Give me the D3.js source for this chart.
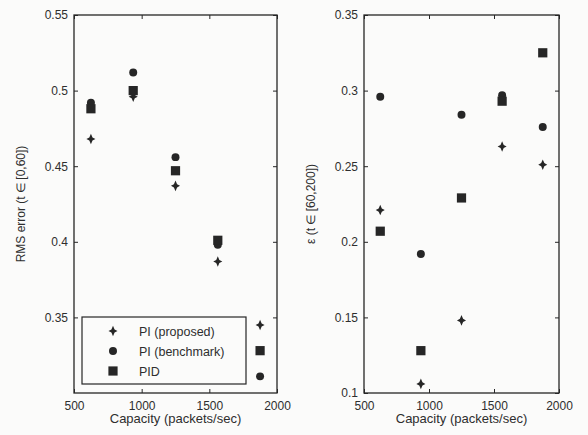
<!DOCTYPE html>
<html>
<head>
<meta charset="utf-8">
<script src="https://cdn.jsdelivr.net/npm/d3@7"></script>
<style>
  body { margin: 0; background: #fbfbfa; }
  text { font-family: "Liberation Sans", Arial, sans-serif; fill: #2e2e2e; }
</style>
</head>
<body>
<div id="chart"></div>
<script>
var svgWidth = 588;
var svgHeight = 435;

// capacities (packets/sec)
var capacity = [625, 937.5, 1250, 1562.5, 1875];

// left panel: RMS error, t in [0,60]
var rmsProposed = [0.468, 0.496, 0.437, 0.387, 0.345];
var rmsBenchmark = [0.492, 0.512, 0.456, 0.398, 0.311];
var rmsPID = [0.488, 0.500, 0.447, 0.401, 0.328];

// right panel: epsilon, t in [60,200]
var epsProposed = [0.221, 0.106, 0.148, 0.263, 0.251];
var epsBenchmark = [0.296, 0.192, 0.284, 0.297, 0.276];
var epsPID = [0.207, 0.128, 0.229, 0.293, 0.325];

var xTicks = [500, 1000, 1500, 2000];
var rmsTicks = [0.35, 0.4, 0.45, 0.5, 0.55];
var epsTicks = [0.1, 0.15, 0.2, 0.25, 0.3, 0.35];
var legendLabels = ["PI (proposed)", "PI (benchmark)", "PID"];

var ink = "#262626";

var svg = d3.select("#chart")
            .append("svg")
            .attr("width", svgWidth)
            .attr("height", svgHeight);

// the "proposed" marker is a squat diamond with pinched sides, like the scan
var starDiamond = {
  draw: function(ctx, size) {
    var h = Math.sqrt(size) * 0.8, w = h * 0.85, p = w * 0.35;
    ctx.moveTo(0, -h);
    ctx.lineTo(p, -p);
    ctx.lineTo(w, 0);
    ctx.lineTo(p, p);
    ctx.lineTo(0, h);
    ctx.lineTo(-p, p);
    ctx.lineTo(-w, 0);
    ctx.lineTo(-p, -p);
    ctx.closePath();
  }
};

var markers = [
  d3.symbol().type(starDiamond).size(44),
  d3.symbol().type(d3.symbolCircle).size(50),
  d3.symbol().type(d3.symbolSquare).size(85)
];

function drawPanel(left, right, domainY, yTicks, series, yLabel, yFmt) {
  var top = 15, bottom = 393;
  var x = d3.scaleLinear().domain([500, 2000]).range([left, right]);
  var y = d3.scaleLinear().domain(domainY).range([bottom, top]);
  var g = svg.append("g");

  // frame
  g.append("rect")
   .attr("x", left).attr("y", top)
   .attr("width", right - left).attr("height", bottom - top)
   .attr("fill", "none").attr("stroke", ink).attr("stroke-width", 1.3);

  g.append("g")
    .attr("transform", `translate(0, ${bottom})`)
    .call(d3.axisBottom(x).tickValues(xTicks).tickSize(-4).tickPadding(8).tickFormat(d3.format("d")));
  g.append("g")
    .attr("transform", `translate(0, ${top})`)
    .call(d3.axisTop(x).tickValues(xTicks).tickSize(-4).tickFormat(""));
  g.append("g")
    .attr("transform", `translate(${left}, 0)`)
    .call(d3.axisLeft(y).tickValues(yTicks).tickSize(-4).tickPadding(6).tickFormat(yFmt));
  g.append("g")
    .attr("transform", `translate(${right}, 0)`)
    .call(d3.axisRight(y).tickValues(yTicks).tickSize(-4).tickFormat(""));

  g.selectAll(".domain").remove();
  g.selectAll(".tick line").attr("stroke", ink);
  g.selectAll(".tick text").attr("font-size", "12px").attr("fill", "#2e2e2e")
   .attr("font-family", "Liberation Sans, Arial, sans-serif");

  // points
  series.forEach(function(vals, k) {
    g.selectAll(null)
     .data(vals)
     .enter()
     .append("path")
     .attr("d", markers[k])
     .attr("transform", (d, i) => `translate(${x(capacity[i])}, ${y(d)})`)
     .attr("fill", ink);
  });

  g.append("text")
   .attr("x", (left + right) / 2)
   .attr("y", 423)
   .attr("text-anchor", "middle")
   .attr("font-size", "13px")
   .text("Capacity (packets/sec)");

  g.append("text")
   .attr("transform", `translate(${left - 49}, ${(top + bottom) / 2}) rotate(-90)`)
   .attr("text-anchor", "middle")
   .attr("font-size", "12px")
   .text(yLabel);

  return { x: x, y: y, g: g };
}

var p1 = drawPanel(74, 277, [0.3, 0.55], rmsTicks,
  [rmsProposed, rmsBenchmark, rmsPID], "RMS error (t \u2208 [0,60])", d3.format(".2~f"));
var p2 = drawPanel(364, 559, [0.1, 0.35], epsTicks,
  [epsProposed, epsBenchmark, epsPID], "\u03b5 (t \u2208 [60,200])", d3.format(".2~f"));

// legend in the left panel
var legend = p1.g.append("g");
legend.append("rect")
  .attr("x", 82).attr("y", 317)
  .attr("width", 164).attr("height", 67)
  .attr("fill", "#fbfbfa").attr("stroke", ink).attr("stroke-width", 1.2);

legendLabels.forEach(function(lbl, k) {
  var ly = 331 + k * 20;
  legend.append("path")
    .attr("d", markers[k])
    .attr("transform", `translate(113, ${ly})`)
    .attr("fill", ink);
  legend.append("text")
    .attr("x", 139)
    .attr("y", ly + 4.5)
    .attr("font-size", "12.5px")
    .text(lbl);
});
</script>
</body>
</html>
